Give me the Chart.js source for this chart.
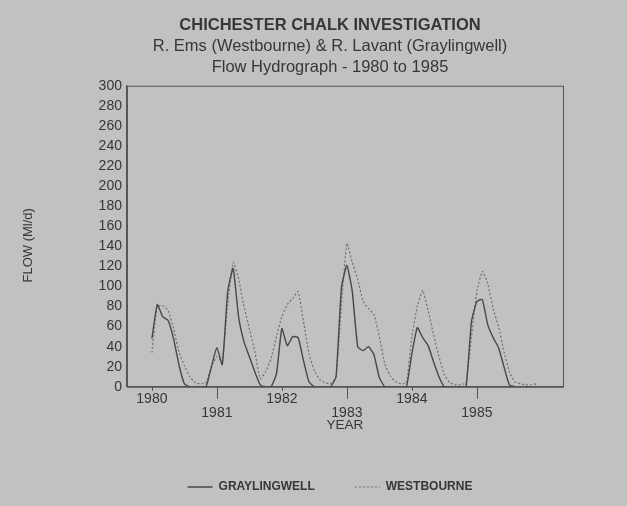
<!DOCTYPE html>
<html>
<head>
<meta charset="utf-8">
<script src="https://cdn.jsdelivr.net/npm/chart.js@4"></script>
<style>
html,body{margin:0;padding:0;background:#c0c2bf;}
#wrap{width:627px;height:506px;position:relative;}
</style>
</head>
<body>
<div id="wrap"><canvas id="c" width="627" height="506"></canvas></div>
<script>
// Month index 0 = Jan 1980
const months = Array.from({length:72}, (_, i) => i);
const yearLabels = ['1980','1981','1982','1983','1984','1985'];
const graylingwell = [48,82,70,66,48,22,3,0,0,0,0,20,
                      39,22,95,118,70,45,30,15,2,0,0,13,
                      58,41,50,49,26,5,0,0,0,0,10,99,
                      121,95,40,36,40,32,9,0,0,0,0,0,
                      33,59,49,41,25,10,0,0,0,0,0,65,
                      85,87,62,49,39,20,2,0,null,null,null,null];
const westbourne = [34,80,81,76,58,35,21,10,4,3,4,20,
                    30,25,82,124,108,80,58,35,8,15,28,50,
                    70,82,88,95,65,33,16,7,4,3,10,82,
                    143,124,107,85,78,72,50,23,11,5,3,4,
                    50,80,96,76,52,30,12,4,2,2,4,50,
                    95,115,103,78,60,35,15,5,3,2,2,3];

const FONT = "'Liberation Sans', Arial, sans-serif";
const INK = '#363736';

const boxPlugin = {
  id: 'boxPlugin',
  afterDraw(chart) {
    const {ctx, chartArea: a, scales} = chart;
    ctx.save();
    ctx.strokeStyle = '#555';
    ctx.lineWidth = 1;
    ctx.strokeRect(a.left + 0.5, a.top + 0.5, a.right - a.left, a.bottom - a.top);
    // year tick marks: odd years long
    const xs = scales.x;
    yearLabels.forEach((y, k) => {
      const px = Math.round(xs.getPixelForValue(k * 12)) + 0.5;
      ctx.beginPath();
      ctx.moveTo(px, a.bottom);
      ctx.lineTo(px, a.bottom + (k % 2 ? 12 : 4));
      ctx.stroke();
    });
    ctx.restore();
  }
};

new Chart(document.getElementById('c'), {
  type: 'line',
  data: {
    labels: months,
    datasets: [
      {label: 'GRAYLINGWELL', data: graylingwell, borderColor: '#474847', borderWidth: 1.4,
       pointRadius: 0, tension: 0.15, spanGaps: false, fill: false},
      {label: 'WESTBOURNE', data: westbourne, borderColor: '#6e706d', borderWidth: 1.2,
       borderDash: [2, 2], pointRadius: 0, tension: 0.15, fill: false}
    ]
  },
  options: {
    responsive: false,
    animation: false,
    layout: {padding: {left: 33, right: 0, top: 4, bottom: 3}},
    plugins: {
      title: {display: true, text: 'CHICHESTER CHALK INVESTIGATION', color: INK,
              font: {family: FONT, size: 16.5, weight: 'bold'}, padding: {top: 12, bottom: 0}},
      subtitle: {display: true, text: ['R. Ems (Westbourne) & R. Lavant (Graylingwell)', 'Flow Hydrograph - 1980 to 1985'],
                 color: INK, font: {family: FONT, size: 16.5, lineHeight: 1.27}, padding: {bottom: 8}},
      legend: {position: 'bottom',
               labels: {boxWidth: 25, boxHeight: 0, padding: 40, color: INK,
                        font: {family: FONT, size: 12, weight: 'bold'}}},
      tooltip: {enabled: false}
    },
    scales: {
      x: {
        type: 'linear', min: -4.6, max: 75.9,
        afterBuildTicks(scale) { scale.ticks = yearLabels.map((_, k) => ({value: k * 12})); },
        ticks: {
          autoSkip: false, maxRotation: 0, color: INK, padding: 5,
          font: {family: FONT, size: 14, lineHeight: 1.0},
          callback(v) { const k = Math.round(v / 12); return k % 2 ? ['', yearLabels[k]] : yearLabels[k]; }
        },
        grid: {display: false, drawTicks: false},
        border: {display: true, color: '#555'},
        title: {display: true, text: 'YEAR', color: INK, font: {family: FONT, size: 13.5}, padding: {top: -8, bottom: 8}}
      },
      y: {
        min: 0, max: 300,
        ticks: {stepSize: 20, color: INK, font: {family: FONT, size: 14}, padding: 1},
        grid: {display: false, drawTicks: true, tickLength: 4, color: '#555'},
        border: {display: true, color: '#555'},
        title: {display: true, text: 'FLOW (Ml/d)     ', color: INK, font: {family: FONT, size: 13}, padding: {top: -12, bottom: 61}}
      },
      yR: {
        position: 'right', display: true,
        ticks: {display: false}, grid: {display: false, drawTicks: false}, border: {display: false},
        afterFit(s) { s.width = 64; }
      }
    }
  },
  plugins: [boxPlugin]
});
</script>
</body>
</html>
